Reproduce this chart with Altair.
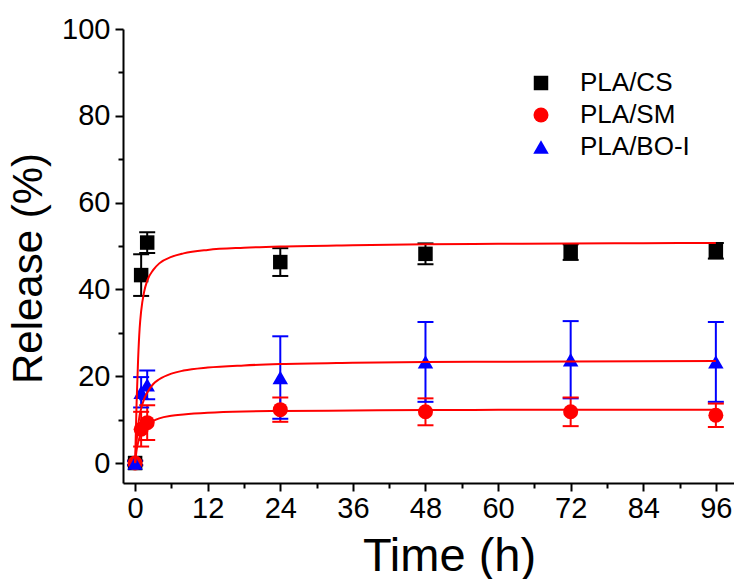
import altair as alt
import pandas as pd

# ---- data ----
series_names = ["PLA/CS", "PLA/SM", "PLA/BO-I"]
series_colors = ["#000000", "#ff0000", "#0000ff"]
series_shapes = ["square", "circle", "triangle-up"]
series_sizes = [210, 240, 340]

times = [0, 1, 2, 24, 48, 72, 96]
cs_mean = [0.0, 43.3, 50.8, 46.3, 48.2, 48.6, 48.9]
cs_err = [0.5, 4.8, 2.4, 3.2, 2.4, 1.8, 1.8]
sm_mean = [0.0, 7.8, 9.3, 12.3, 11.8, 11.8, 11.0]
sm_err = [0.5, 4.0, 4.0, 2.8, 3.1, 3.3, 2.7]
bo_mean = [0.0, 16.3, 18.0, 19.7, 23.3, 23.8, 23.3]
bo_err = [0.5, 3.5, 3.3, 9.5, 9.2, 8.9, 9.2]

fit_t = [0, 0.25, 0.5, 0.75, 1, 1.5, 2, 3, 4, 6, 8, 12, 18, 24, 36, 48, 60, 72, 84, 96]
fit_cs = [0, 14, 24, 31, 35, 39.5, 42, 44.5, 46, 47.5, 48.3, 49.1, 49.6, 49.9, 50.2, 50.4, 50.5, 50.6, 50.65, 50.7]
fit_sm = [0, 3, 4.7, 6, 6.8, 8, 8.8, 9.7, 10.3, 10.9, 11.2, 11.6, 11.9, 12.0, 12.1, 12.2, 12.25, 12.3, 12.3, 12.3]
fit_bo = [0, 5, 8.5, 11, 12.5, 14.8, 16.2, 18.2, 19.3, 20.6, 21.3, 22.0, 22.5, 22.8, 23.1, 23.3, 23.35, 23.4, 23.45, 23.5]

x_major = [0, 12, 24, 36, 48, 60, 72, 84, 96]
x_minor = [6, 18, 30, 42, 54, 66, 78, 90]
y_major = [0, 20, 40, 60, 80, 100]
y_minor = [10, 30, 50, 70, 90]

# ---- tables ----
rows = []
for name, m, e in zip(series_names, [cs_mean, sm_mean, bo_mean], [cs_err, sm_err, bo_err]):
    for t, v, d in zip(times, m, e):
        rows.append({"series": name, "t": t, "v": v, "lo": v - d, "hi": v + d})
pts = pd.DataFrame(rows)

caps = pd.concat([
    pts[["series", "t", "lo"]].rename(columns={"lo": "cap"}),
    pts[["series", "t", "hi"]].rename(columns={"hi": "cap"}),
])

fit_rows = []
for name, vals in zip(series_names, [fit_cs, fit_sm, fit_bo]):
    for t, v in zip(fit_t, vals):
        fit_rows.append({"series": name, "t": t, "v": v})
fits = pd.DataFrame(fit_rows)

FONT = "Liberation Sans"
xscale = alt.Scale(domain=[-2, 99], nice=False, zero=False)
yscale = alt.Scale(domain=[-4.6, 100], nice=False, zero=False)
cscale = alt.Scale(domain=series_names, range=series_colors)
sscale = alt.Scale(domain=series_names, range=series_shapes)
zscale = alt.Scale(domain=series_names, range=series_sizes)

x_main = alt.Axis(values=x_major, orient="bottom", title="Time (h)", grid=False,
                  tickSize=8, tickWidth=2, tickColor="black", domainWidth=2, domainColor="black",
                  labelFont=FONT, labelFontSize=29, labelColor="black", labelPadding=3,
                  titleFont=FONT, titleFontSize=47, titleFontWeight="normal", titleColor="black",
                  titleX=326, titleY=87, titleBaseline="alphabetic")
y_main = alt.Axis(values=y_major, orient="left", title="Release (%)", grid=False,
                  tickSize=8, tickWidth=2, tickColor="black", domainWidth=2, domainColor="black",
                  labelFont=FONT, labelFontSize=29, labelColor="black", labelPadding=5,
                  titleFont=FONT, titleFontSize=42, titleFontWeight="normal", titleColor="black",
                  titleX=-82, titleY=239, titleBaseline="alphabetic", titleAngle=270)
x_min = alt.Axis(values=x_minor, orient="bottom", title=None, grid=False, labels=False, domain=False,
                 tickSize=5, tickWidth=2, tickColor="black")
y_min = alt.Axis(values=y_minor, orient="left", title=None, grid=False, labels=False, domain=False,
                 tickSize=5, tickWidth=2, tickColor="black")

leg = alt.Legend(title=None, orient="none", legendX=405, legendY=41,
                 labelFont=FONT, labelFontSize=26, labelColor="black",
                 symbolStrokeWidth=0, symbolOpacity=1, labelOffset=26, rowPadding=6, padding=0)

err = alt.Chart(pts).mark_rule(strokeWidth=2, opacity=1).encode(
    x=alt.X("t:Q", scale=xscale, axis=None),
    y=alt.Y("lo:Q", scale=yscale, axis=None),
    y2="hi:Q",
    color=alt.Color("series:N", scale=cscale),
)

cap = alt.Chart(caps).mark_tick(orient="horizontal", size=16, thickness=2, opacity=1).encode(
    x=alt.X("t:Q", scale=xscale, axis=None),
    y=alt.Y("cap:Q", scale=yscale, axis=None),
    color=alt.Color("series:N", scale=cscale),
)

points = alt.Chart(pts).mark_point(filled=True, opacity=1, fillOpacity=1).encode(
    x=alt.X("t:Q", scale=xscale, axis=x_main),
    y=alt.Y("v:Q", scale=yscale, axis=y_main),
    color=alt.Color("series:N", scale=cscale, legend=leg),
    shape=alt.Shape("series:N", scale=sscale, legend=leg),
    size=alt.Size("series:N", scale=zscale, legend=leg),
)

lines = alt.Chart(fits).mark_line(color="#ff0000", strokeWidth=2, interpolate="monotone").encode(
    x=alt.X("t:Q", scale=xscale, axis=x_min),
    y=alt.Y("v:Q", scale=yscale, axis=y_min),
    detail="series:N",
)

chart = alt.layer(err, cap, points, lines).resolve_axis(
    x="independent", y="independent"
).properties(
    width=611, height=454,
    background="white",
    padding={"left": 123, "top": 29, "right": 0, "bottom": 96},
    autosize=alt.AutoSizeParams(type="none"),
).configure_view(strokeWidth=0, stroke="transparent").configure_legend(symbolOpacity=1)

chart.save("out.html", embed_options={"renderer": "svg", "actions": False})
